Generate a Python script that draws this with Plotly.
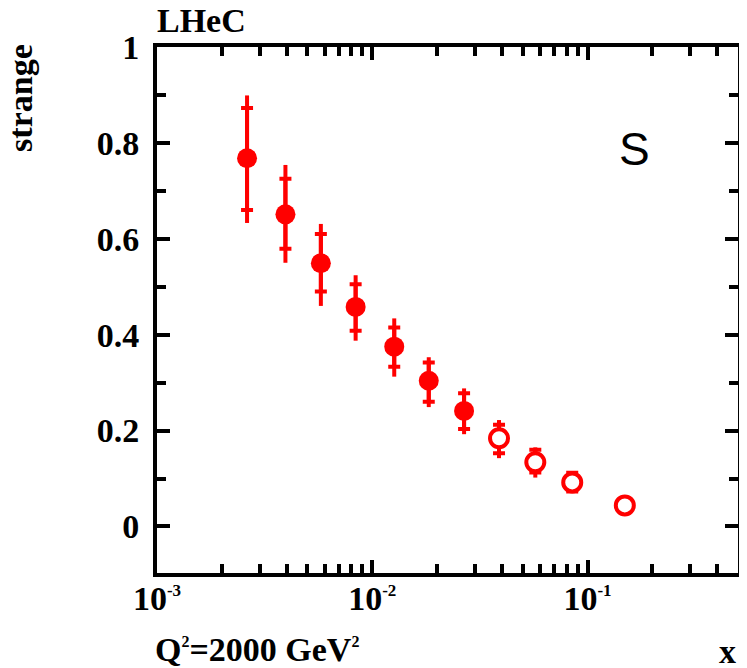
import plotly.graph_objects as go

# ---- data ----
x_vals = [0.00262, 0.00395, 0.00577, 0.00837, 0.01265, 0.0183, 0.0267,
          0.0388, 0.0572, 0.0849, 0.149]
s_vals = [0.768, 0.651, 0.549, 0.458, 0.375, 0.304, 0.241,
          0.184, 0.134, 0.092, 0.044]
# total (outer) error, asymmetric
err_tot_up = [0.131, 0.103, 0.082, 0.066, 0.059, 0.049, 0.047,
              0.038, 0.031, 0.023, 0.0]
err_tot_dn = [0.135, 0.101, 0.089, 0.0705, 0.0625, 0.055, 0.0485,
              0.0415, 0.032, 0.022, 0.0]
# inner (stat) error, marked with caps
err_in_up = [0.105, 0.074, 0.061, 0.047, 0.040, 0.038, 0.037,
             0.028, 0.026, 0.020, 0.0]
err_in_dn = [0.108, 0.072, 0.059, 0.050, 0.042, 0.044, 0.0375,
             0.031, 0.0215, 0.019, 0.0]
n_filled = 7   # first 7 points filled, rest open

x_tickvals = [0.001, 0.01, 0.1]
x_ticktext = ["10<sup><span style='font-size:17px'>-3</span></sup>",
              "10<sup><span style='font-size:17px'>-2</span></sup>",
              "10<sup><span style='font-size:17px'>-1</span></sup>"]
x_minor = [m * 10 ** e for e in (-3, -2, -1) for m in range(2, 10) if m * 10 ** e <= 0.5]

RED = "#ff0000"
SERIF = "Liberation Serif"

fig = go.Figure()

# outer (total) error bars, no caps
fig.add_trace(go.Scatter(
    x=x_vals, y=s_vals, mode="markers",
    marker=dict(size=1, color="rgba(0,0,0,0)"),
    error_y=dict(type="data", symmetric=False, array=err_tot_up,
                 arrayminus=err_tot_dn, color=RED, thickness=4, width=0),
    showlegend=False, hoverinfo="skip"))

# inner error bars with caps
fig.add_trace(go.Scatter(
    x=x_vals, y=s_vals, mode="markers",
    marker=dict(size=1, color="rgba(0,0,0,0)"),
    error_y=dict(type="data", symmetric=False, array=err_in_up,
                 arrayminus=err_in_dn, color=RED, thickness=4, width=6),
    showlegend=False, hoverinfo="skip"))

# filled markers
fig.add_trace(go.Scatter(
    x=x_vals[:n_filled], y=s_vals[:n_filled], mode="markers",
    marker=dict(symbol="circle", size=20, color=RED, line=dict(width=0)),
    showlegend=False))

# open markers
fig.add_trace(go.Scatter(
    x=x_vals[n_filled:], y=s_vals[n_filled:], mode="markers",
    marker=dict(symbol="circle", size=18, color="white",
                line=dict(color=RED, width=4)),
    showlegend=False))

axis_font = dict(family=SERIF, size=34, color="black", weight="bold")

fig.update_xaxes(
    type="log", range=[-3, -0.30103],
    showline=True, linecolor="black", linewidth=4, mirror="ticks",
    showgrid=False, zeroline=False,
    ticks="inside", ticklen=13, tickwidth=4, tickcolor="black",
    tickvals=x_tickvals, ticktext=x_ticktext, tickfont=axis_font,
    ticklabelstandoff=-8,
    minor=dict(tickvals=x_minor, ticks="inside", ticklen=9, tickwidth=4,
               tickcolor="black", showgrid=False),
)
fig.update_yaxes(
    range=[-0.097, 1.0],
    showline=True, linecolor="black", linewidth=4, mirror="ticks",
    showgrid=False, zeroline=False,
    ticks="inside", ticklen=13, tickwidth=4, tickcolor="black",
    tick0=0, dtick=0.2, tickfont=axis_font, ticklabelstandoff=7,
    minor=dict(dtick=0.1, tick0=0, ticks="inside", ticklen=9, tickwidth=4,
               tickcolor="black", showgrid=False),
)

ann_font = dict(family=SERIF, size=34, color="black", weight="bold")
fig.update_layout(
    width=739, height=660,
    margin=dict(l=149, r=5, t=39, b=95, pad=0),
    paper_bgcolor="white", plot_bgcolor="white",
    annotations=[
        dict(text="LHeC", xref="paper", yref="paper", x=-0.004, y=1.0513,
             xanchor="left", yanchor="middle", showarrow=False, font=ann_font),
        dict(text="strange", xref="paper", yref="paper", x=-0.236, y=0.903,
             xanchor="center", yanchor="middle", textangle=-90,
             showarrow=False, font=ann_font),
        dict(text="Q<sup><span style='font-size:16px'>2</span></sup>=2000 GeV<sup><span style='font-size:16px'>2</span></sup>",
             xref="paper", yref="paper", x=-0.0068, y=-0.146,
             xanchor="left", yanchor="middle", showarrow=False, font=ann_font),
        dict(text="x", xref="paper", yref="paper", x=1.0, y=-0.150,
             xanchor="right", yanchor="middle", showarrow=False, font=ann_font),
        dict(text="S", xref="paper", yref="paper", x=0.8214, y=0.806,
             xanchor="center", yanchor="middle", showarrow=False,
             font=dict(family="Liberation Sans", size=46, color="black")),
    ],
)

fig.write_html("out.html")
